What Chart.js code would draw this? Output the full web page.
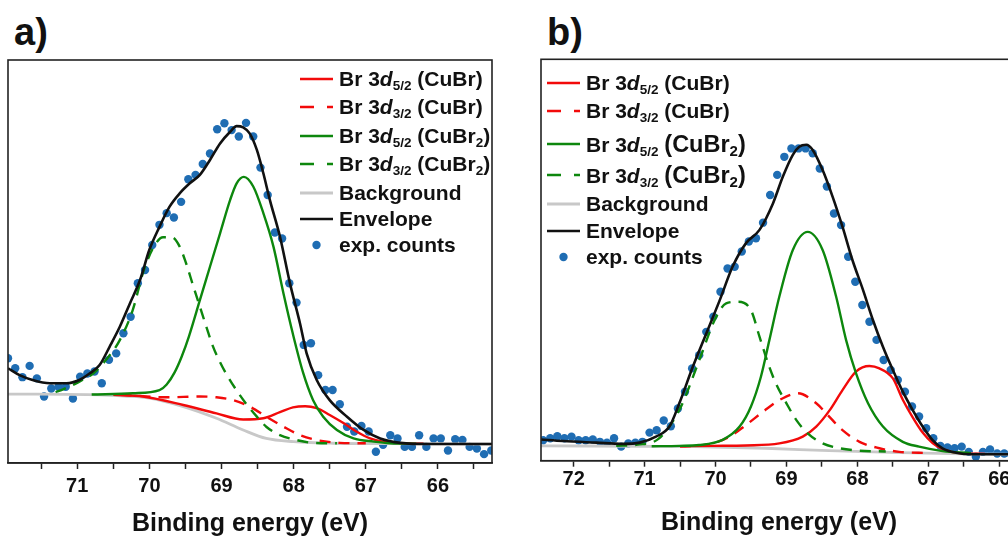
<!DOCTYPE html>
<html>
<head>
<meta charset="utf-8">
<title>Br 3d XPS – CuBr / CuBr2</title>
<script src="https://cdn.jsdelivr.net/npm/chart.js@4.4.1/dist/chart.umd.min.js"></script>
<style>
    html, body { margin: 0; padding: 0; background: #fff; }
    body { width: 1008px; height: 537px; position: relative; overflow: hidden;
           font-family: 'Liberation Sans', Arial, sans-serif; color: #111; }
    canvas { display: block; }
    .panel { position: absolute; top: 0; }
    .tag { position: absolute; top: 13px; font-weight: bold; font-size: 38px; line-height: 38px; }
    .legend { position: absolute; top: 0; font-weight: bold; font-size: 21px; }
    .legend .row { position: absolute; left: 0; height: 28px; display: flex; align-items: center;
                   white-space: nowrap; transform: translateY(-50%); }
    .legend svg { margin-right: 6px; flex: none; }
    .legend sub { font-size: 13.5px; vertical-align: -4px; line-height: 0; }
    .legend .big { font-size: 23.5px; }
    .legend .big sub { font-size: 15px; }
</style>
</head>
<body>
<div class="tag" style="left:14px">a)</div>
<div class="tag" style="left:547px">b)</div>
<div class="panel" style="left:0"><canvas id="chartA" width="500" height="537"></canvas></div>
<div class="panel" style="left:533px"><canvas id="chartB" width="492" height="537"></canvas></div>
<div class="legend" id="legendA" style="left:300px"></div>
<div class="legend" id="legendB" style="left:547px"></div>

<script>
(function () {
    'use strict';

    /* ----------------------------------------------------------
       Daten – Panel a (Intensität in willk. Einheiten)
    ---------------------------------------------------------- */
    var energyA = [71.96, 71.86, 71.76, 71.66, 71.56, 71.46, 71.36, 71.26, 71.16, 71.06,
                   70.96, 70.86, 70.76, 70.66, 70.56, 70.46, 70.36, 70.26, 70.16, 70.06,
                   69.96, 69.86, 69.76, 69.66, 69.56, 69.46, 69.36, 69.26, 69.16, 69.06,
                   68.96, 68.86, 68.76, 68.66, 68.56, 68.46, 68.36, 68.26, 68.16, 68.06,
                   67.96, 67.86, 67.76, 67.66, 67.56, 67.46, 67.36, 67.26, 67.16, 67.06,
                   66.96, 66.86, 66.76, 66.66, 66.56, 66.46, 66.36, 66.26, 66.16, 66.06,
                   65.96, 65.86, 65.76, 65.66, 65.56, 65.46, 65.36, 65.26];
    var countsA = [26.0, 23.5, 21.3, 24.1, 21.0, 16.5, 18.5, 18.9, 18.9, 16.0,
                   21.4, 22.2, 22.7, 19.8, 25.6, 27.2, 32.2, 36.3, 44.6, 47.9,
                   54.1, 59.1, 62.0, 60.9, 64.8, 70.4, 71.5, 74.2, 76.8, 82.8,
                   84.3, 82.6, 81.0, 84.4, 81.0, 73.3, 66.5, 57.2, 55.7, 44.6,
                   39.8, 29.3, 29.7, 21.8, 18.1, 18.1, 14.6, 9.0, 7.8, 9.2,
                   7.8, 2.8, 4.5, 6.9, 6.1, 4.0, 4.0, 6.9, 4.0, 6.1,
                   6.1, 3.1, 5.9, 5.7, 4.0, 3.6, 2.2, 3.1];

    var bgEnergyA = [71.96, 70.69, 70.35, 70.00, 69.53, 69.07, 68.70, 68.38, 68.00, 67.45, 66.76, 65.25];
    var bgA       = [17.1, 16.9, 16.6, 16.1, 14.0, 11.1, 8.2, 6.1, 5.3, 4.9, 4.8, 4.7];

    var redEnergyA = [70.50, 70.09, 69.53, 69.07, 68.70, 68.42, 68.19, 68.01, 67.84, 67.68,
                      67.50, 67.31, 67.13, 66.94, 66.76, 66.50, 66.20];
    var redA       = [16.9, 16.5, 14.4, 12.3, 10.8, 11.1, 12.6, 13.8, 14.1, 13.6,
                      11.9, 9.9, 7.8, 6.1, 5.3, 4.9, 4.8];

    var redDashEnergyA = [70.40, 70.09, 69.76, 69.30, 69.07, 68.84, 68.61, 68.38, 68.14, 67.91, 67.68, 67.36, 67.00];
    var redDashA       = [16.9, 16.6, 16.3, 16.5, 16.3, 15.6, 14.0, 11.5, 9.0, 6.9, 5.7, 5.0, 4.9];

    var greenEnergyA = [70.80, 70.23, 69.86, 69.76, 69.65, 69.55, 69.45, 69.30, 69.16, 69.02,
                        68.88, 68.79, 68.69, 68.56, 68.42, 68.28, 68.14, 68.01, 67.87, 67.73,
                        67.59, 67.40, 67.17, 66.89, 66.66, 66.30];
    var greenA       = [17.0, 17.3, 18.1, 19.5, 22.5, 26.5, 31.5, 40.4, 48.7, 57.0,
                        65.3, 69.4, 71.0, 68.6, 62.0, 53.7, 42.0, 32.0, 22.5, 15.6,
                        11.5, 8.2, 6.1, 5.3, 4.9, 4.8];

    var greenDashEnergyA = [71.30, 71.22, 70.97, 70.78, 70.60, 70.41, 70.23, 70.09, 69.95, 69.81,
                            69.69, 69.58, 69.49, 69.39, 69.30, 69.21, 69.12, 69.02, 68.93, 68.79,
                            68.65, 68.51, 68.38, 68.19, 67.96, 67.73, 67.40];
    var greenDashA       = [17.6, 18.1, 20.2, 22.2, 25.6, 30.5, 38.0, 47.1, 53.3, 56.0,
                            56.0, 53.7, 49.5, 43.8, 38.8, 33.8, 29.0, 25.0, 22.0, 18.0,
                            14.5, 11.5, 9.0, 6.9, 5.7, 5.0, 4.9];

    var envEnergyA = [71.96, 71.80, 71.62, 71.38, 71.15, 70.97, 70.83, 70.69, 70.55, 70.41,
                      70.27, 70.13, 70.00, 69.86, 69.72, 69.58, 69.44, 69.30, 69.16, 69.02,
                      68.88, 68.79, 68.70, 68.61, 68.51, 68.42, 68.33, 68.19, 68.05, 67.91,
                      67.82, 67.68, 67.50, 67.26, 67.03, 66.80, 66.52, 66.11, 65.25];
    var envA       = [23.5, 21.8, 20.6, 19.8, 19.8, 20.6, 22.2, 24.3, 28.9, 33.8,
                      39.6, 45.4, 52.9, 58.6, 63.6, 66.9, 69.4, 71.5, 75.2, 79.3,
                      82.2, 83.6, 83.3, 81.8, 77.7, 71.9, 65.3, 56.2, 44.5, 34.5,
                      27.2, 20.6, 15.6, 11.5, 8.2, 6.1, 5.0, 4.7, 4.7];

    /* ----------------------------------------------------------
       Daten – Panel b
    ---------------------------------------------------------- */
    var energyB = [72.43, 72.33, 72.23, 72.13, 72.03, 71.93, 71.83, 71.73, 71.63, 71.53,
                   71.43, 71.33, 71.23, 71.13, 71.03, 70.93, 70.83, 70.73, 70.63, 70.53,
                   70.43, 70.33, 70.23, 70.13, 70.03, 69.93, 69.83, 69.73, 69.63, 69.53,
                   69.43, 69.33, 69.23, 69.13, 69.03, 68.93, 68.83, 68.73, 68.63, 68.53,
                   68.43, 68.33, 68.23, 68.13, 68.03, 67.93, 67.83, 67.73, 67.63, 67.53,
                   67.43, 67.33, 67.23, 67.13, 67.03, 66.93, 66.83, 66.73, 66.63, 66.53,
                   66.43, 66.33, 66.23, 66.13, 66.03, 65.93, 65.83];
    var countsB = [5.1, 5.6, 6.1, 5.6, 6.0, 5.1, 5.1, 5.3, 4.7, 4.5,
                   5.6, 3.5, 4.3, 4.5, 4.7, 7.0, 7.6, 10.0, 8.6, 13.0,
                   17.2, 23.0, 26.3, 32.1, 35.9, 42.1, 47.9, 48.3, 52.1, 54.6,
                   55.4, 59.3, 66.2, 71.2, 75.7, 77.8, 77.8, 77.8, 76.6, 72.8,
                   68.3, 61.6, 58.7, 50.8, 44.6, 38.8, 34.6, 30.1, 25.1, 22.6,
                   20.1, 17.2, 13.5, 11.0, 8.1, 5.6, 3.7, 3.3, 3.1, 3.5,
                   2.2, 1.0, 2.2, 2.8, 1.8, 1.8, 1.5];

    var bgEnergyB = [72.46, 70.30, 69.30, 68.40, 67.40, 66.50, 65.75];
    var bgB       = [3.7, 3.5, 3.1, 2.5, 2.0, 1.7, 1.6];

    var redEnergyB = [70.50, 70.04, 69.57, 69.10, 68.77, 68.58, 68.39, 68.21, 68.02, 67.83,
                      67.69, 67.50, 67.36, 67.22, 67.08, 66.94, 66.80, 66.56, 66.20];
    var redB       = [3.6, 3.7, 3.8, 4.3, 6.0, 8.5, 12.6, 17.6, 22.2, 23.6,
                      23.0, 20.5, 15.2, 10.8, 7.0, 4.4, 2.9, 1.9, 1.7];

    var redDashEnergyB = [70.50, 70.27, 70.04, 69.80, 69.57, 69.33, 69.10, 68.84, 68.58, 68.42,
                          68.21, 67.97, 67.69, 67.41, 67.00];
    var redDashB       = [3.6, 3.7, 4.3, 6.0, 8.9, 12.2, 15.1, 16.8, 14.3, 11.4,
                          7.6, 4.7, 3.1, 2.2, 1.9];

    var greenEnergyB = [70.90, 70.51, 70.23, 69.90, 69.66, 69.50, 69.36, 69.24, 69.10, 68.91,
                        68.70, 68.49, 68.30, 68.16, 68.02, 67.85, 67.64, 67.36, 67.13, 66.80, 66.40];
    var greenB       = [3.6, 3.7, 3.9, 5.2, 8.5, 13.5, 20.9, 30.1, 40.9, 52.5,
                        57.0, 52.5, 40.9, 30.1, 21.8, 14.3, 8.5, 4.7, 3.5, 2.4, 1.9];

    var greenDashEnergyB = [71.40, 71.10, 70.80, 70.50, 70.23, 70.00, 69.85, 69.69, 69.50, 69.38,
                            69.26, 69.15, 69.00, 68.86, 68.70, 68.49, 68.25, 67.97, 67.60];
    var greenDashB       = [3.7, 4.0, 5.5, 13.0, 25.0, 35.5, 39.2, 39.6, 37.5, 30.9,
                            24.3, 19.3, 14.3, 10.1, 6.8, 4.3, 3.1, 2.5, 2.3];

    var envEnergyB = [72.46, 72.15, 71.68, 71.31, 71.07, 70.84, 70.65, 70.51, 70.32, 70.13,
                      69.94, 69.76, 69.57, 69.38, 69.19, 69.05, 68.91, 68.82, 68.72, 68.63,
                      68.49, 68.35, 68.21, 68.07, 67.92, 67.78, 67.64, 67.50, 67.36, 67.22,
                      67.08, 66.94, 66.80, 66.61, 66.38, 65.75];
    var envB       = [5.3, 4.9, 4.5, 4.2, 4.5, 6.0, 8.5, 14.3, 23.4, 31.7,
                      40.0, 48.3, 54.2, 57.5, 64.1, 70.8, 76.2, 78.2, 78.7, 77.4,
                      72.4, 65.8, 58.3, 50.0, 42.5, 35.0, 28.4, 22.6, 17.2, 12.6,
                      8.5, 5.1, 3.1, 2.0, 1.6, 1.6];

    var seriesNames = ['Br 3d5/2 (CuBr)', 'Br 3d3/2 (CuBr)', 'Br 3d5/2 (CuBr2)', 'Br 3d3/2 (CuBr2)',
                       'Background', 'Envelope', 'exp. counts'];
    var axisTitle = 'Binding energy (eV)';

    /* ----------------------------------------------------------
       Stil
    ---------------------------------------------------------- */
    var RED = '#f20a0a', GREEN = '#0d870d', GRAY = '#c8c8c8', BLACK = '#111111', BLUE = '#1f6db3';
    var DASH = [11, 8];

    Chart.defaults.font.family = "'Liberation Sans', Arial, sans-serif";
    Chart.defaults.color = '#111';

    function pts(xs, ys) {
        return xs.map(function (x, i) { return { x: x, y: ys[i] }; });
    }

    function curve(label, xs, ys, color, dashed, order, width) {
        return {
            label: label,
            data: pts(xs, ys),
            showLine: true,
            borderColor: color,
            backgroundColor: color,
            borderWidth: width || 2.4,
            borderDash: dashed ? DASH : [],
            pointRadius: 0,
            cubicInterpolationMode: 'monotone',
            fill: false,
            order: order
        };
    }

    function dots(label, xs, ys) {
        return {
            label: label,
            data: pts(xs, ys),
            showLine: false,
            pointRadius: 4.2,
            pointBackgroundColor: BLUE,
            pointBorderWidth: 0,
            backgroundColor: BLUE,
            order: 9
        };
    }

    /* ----------------------------------------------------------
       Plugins: Rahmen + HTML-Legende
    ---------------------------------------------------------- */
    var framePlugin = {
        id: 'frame',
        afterDatasetsDraw: function (chart) {
            var a = chart.chartArea, ctx = chart.ctx;
            ctx.save();
            ctx.strokeStyle = '#222';
            ctx.lineWidth = 1.6;
            ctx.strokeRect(a.left, a.top, a.right - a.left, a.bottom - a.top);
            ctx.restore();
        }
    };

    function labelHtml(text, bigCompound) {
        var h = text.replace(/3d(\d\/\d)/, '3<i>d</i><sub>$1</sub>');
        h = h.replace('(CuBr2)', bigCompound
            ? '<span class="big">(CuBr<sub>2</sub>)</span>'
            : '(CuBr<sub>2</sub>)');
        return h;
    }

    function sample(ds) {
        var ns = 'http://www.w3.org/2000/svg';
        var svg = document.createElementNS(ns, 'svg');
        svg.setAttribute('width', '33');
        svg.setAttribute('height', '10');
        if (!ds.showLine) {
            var c = document.createElementNS(ns, 'circle');
            c.setAttribute('cx', '16.5'); c.setAttribute('cy', '5'); c.setAttribute('r', '4.2');
            c.setAttribute('fill', ds.pointBackgroundColor);
            svg.appendChild(c);
        } else {
            var l = document.createElementNS(ns, 'line');
            l.setAttribute('x1', '0'); l.setAttribute('y1', '5');
            l.setAttribute('x2', '33'); l.setAttribute('y2', '5');
            l.setAttribute('stroke', ds.borderColor);
            l.setAttribute('stroke-width', String(ds.borderWidth));
            if (ds.borderDash.length) l.setAttribute('stroke-dasharray', '14 13');
            svg.appendChild(l);
        }
        return svg;
    }

    var htmlLegend = {
        id: 'htmlLegend',
        afterUpdate: function (chart, args, opts) {
            var box = document.getElementById(opts.containerID);
            if (!box) return;
            box.innerHTML = '';
            chart.data.datasets.forEach(function (ds, i) {
                var row = document.createElement('div');
                row.className = 'row';
                row.style.top = opts.centers[i] + 'px';
                row.appendChild(sample(ds));
                var span = document.createElement('span');
                span.innerHTML = labelHtml(ds.label, opts.bigCompound);
                row.appendChild(span);
                box.appendChild(row);
            });
        }
    };

    /* ----------------------------------------------------------
       Achsen
    ---------------------------------------------------------- */
    function xScale(min, max, axisHeight, tickPad, titlePad) {
        return {
            type: 'linear',
            reverse: true,
            min: min,
            max: max,
            afterBuildTicks: function (s) {
                s.ticks = s.ticks.filter(function (t) {
                    return Math.abs(t.value * 2 - Math.round(t.value * 2)) < 1e-6;
                });
            },
            afterFit: function (s) { s.height = axisHeight; },
            grid: { drawOnChartArea: false, drawTicks: true, tickLength: 6, tickColor: '#222', tickWidth: 1.5 },
            border: { display: true, color: '#222', width: 1.6 },
            ticks: {
                stepSize: 0.5,
                includeBounds: false,
                autoSkip: false,
                maxRotation: 0,
                padding: tickPad,
                color: '#111',
                font: { size: 20, weight: 'bold', lineHeight: 1 },
                callback: function (v) {
                    var r = Math.round(v);
                    return Math.abs(v - r) < 1e-6 ? String(r) : '';
                }
            },
            title: {
                display: true,
                text: axisTitle,
                color: '#111',
                font: { size: 25, weight: 'bold', lineHeight: 1 },
                padding: { top: 0, bottom: titlePad }
            }
        };
    }

    function buildChart(canvasId, datasets, xOpts, padTop, legendOpts) {
        return new Chart(document.getElementById(canvasId), {
            type: 'scatter',
            data: { datasets: datasets },
            options: {
                responsive: false,
                animation: false,
                devicePixelRatio: 1,
                layout: { padding: { left: 8, right: 8, top: padTop, bottom: 0 } },
                plugins: {
                    legend: { display: false },
                    tooltip: { enabled: false },
                    htmlLegend: legendOpts
                },
                scales: {
                    x: xOpts,
                    y: { display: false, min: 0, max: 100 }
                }
            },
            plugins: [framePlugin, htmlLegend]
        });
    }

    /* ----------------------------------------------------------
       Panel a
    ---------------------------------------------------------- */
    buildChart('chartA', [
        curve(seriesNames[0], redEnergyA, redA, RED, false, 5),
        curve(seriesNames[1], redDashEnergyA, redDashA, RED, true, 5),
        curve(seriesNames[2], greenEnergyA, greenA, GREEN, false, 4),
        curve(seriesNames[3], greenDashEnergyA, greenDashA, GREEN, true, 4),
        curve(seriesNames[4], bgEnergyA, bgA, GRAY, false, 6, 2.8),
        curve(seriesNames[5], envEnergyA, envA, BLACK, false, 1, 2.6),
        dots(seriesNames[6], energyA, countsA)
    ], xScale(65.25, 71.96, 74, 7, 0), 60, {
        containerID: 'legendA',
        centers: [78.7, 106.7, 135.7, 164.3, 192.7, 219.3, 245],
        bigCompound: false
    });

    /* ----------------------------------------------------------
       Panel b
    ---------------------------------------------------------- */
    buildChart('chartB', [
        curve(seriesNames[0], redEnergyB, redB, RED, false, 5),
        curve(seriesNames[1], redDashEnergyB, redDashB, RED, true, 5),
        curve(seriesNames[2], greenEnergyB, greenB, GREEN, false, 4),
        curve(seriesNames[3], greenDashEnergyB, greenDashB, GREEN, true, 4),
        curve(seriesNames[4], bgEnergyB, bgB, GRAY, false, 6, 2.8),
        curve(seriesNames[5], envEnergyB, envB, BLACK, false, 1, 2.6),
        dots(seriesNames[6], energyB, countsB)
    ], xScale(65.75, 72.46, 76.3, 3, 1), 59.3, {
        containerID: 'legendB',
        centers: [82.7, 110.7, 144.3, 175, 204.3, 231, 257.3],
        bigCompound: true
    });

})();
</script>
</body>
</html>
